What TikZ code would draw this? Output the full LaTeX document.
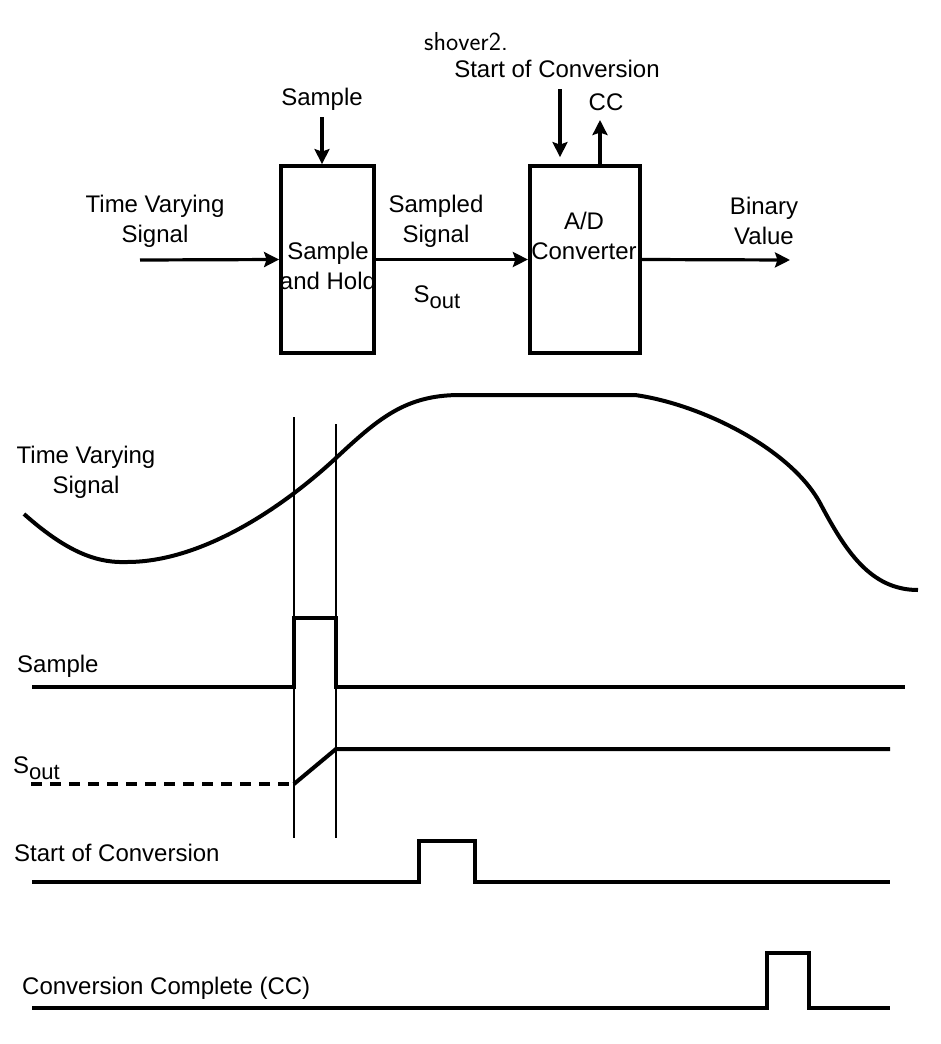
\documentclass[tikz,border=0pt]{standalone}
\usepackage{fontspec}
\setmainfont{Liberation Sans}
\usetikzlibrary{positioning, arrows.meta}

\newcommand{\lowsub}[1]{\raisebox{-6pt}{\fontsize{22}{22}\selectfont #1}}

\begin{document}
\begin{tikzpicture}[
    x=1pt, y=-1pt,
    every node/.style={font=\fontsize{24}{30}\selectfont, inner sep=0pt, align=center},
    block/.style={draw, line width=3.8pt, minimum width=93pt, minimum height=187pt},
    arrow/.style={-{Stealth[length=15pt,width=15pt,inset=2.5pt]}, line width=3.2pt},
    wave/.style={line width=4pt},
    marker/.style={line width=1.3pt}
  ]
\useasboundingbox (0,0) rectangle (940,1044);

\node[block] (sh) at (327.5,259.5) {};
\node[block, minimum width=110pt,
      right=152pt of sh]                          (adc) {};

\node (shtxt)  at (328,266) {Sample\\and Hold};
\node (adctxt) at (584,236) {A/D\\Converter};

\coordinate (in)   at (140,260);
\coordinate (out)  at (790,260);
\coordinate (smp)  at (322,117);
\coordinate (soc)  at (560,89);
\coordinate (cc)   at (600,120);

\node (tvs)  at (155,221) {Time Varying\\Signal};
\node (ssig) at (436,221) {Sampled\\Signal};
\node (sout) at (437,297) {S\lowsub{out}};
\node (bin)  at (764,221) {Binary\\Value};
\node[above=6pt of smp] (smptxt) {Sample};
\node (soctxt) at (557,69) {Start of Conversion};
\node (cctxt)  at (606,102) {CC};
\node[font=\fontsize{26}{30}\sffamily] (note) at (466,42) {shover2.};

  \draw[arrow] (in) -- (sh.west);
  \draw[arrow] (sh.east) -- (adc.west);
  \draw[arrow] (adc.east) -- (out);
  \draw[arrow] (smp) -- (smp |- sh.north);
  \draw[arrow, shorten >=7pt] (soc) -- (soc |- adc.north);
  \draw[arrow] (cc |- adc.north) -- (cc);

\node[anchor=center] (tvs2) at (86,472) {Time Varying\\Signal};
\node[anchor=west] (smp2) at (17,666) {Sample};
\node[anchor=west] (sout2) at (13,768) {S\lowsub{out}};
\node[anchor=west] (soc2) at (14,853) {Start of Conversion};
\node[anchor=west] (cc2) at (22,988) {Conversion Complete (CC)};

  \draw[marker] (294,417) -- (294,838);
  \draw[marker] (336,424) -- (336,838);

  \draw[wave] (24,514) .. controls (70,555) and (100,563) .. (127,562)
    .. controls (200,562) and (280,510) .. (336,458)
    .. controls (378,419) and (405,395) .. (460,395)
    -- (635,395)
    .. controls (700,404) and (790,448) .. (820,503)
    .. controls (845,550) and (870,590) .. (918,590);

  \draw[wave] (32,687) -- (294,687) -- (294,618) -- (336,618) -- (336,687) -- (905,687);
  \draw[wave, line width=3.2pt, dash pattern=on 11pt off 8pt] (31,784) -- (294,784);
  \draw[wave] (294,784) -- (336,749) -- (890,749);
  \draw[wave] (32,882) -- (419,882) -- (419,841) -- (475,841) -- (475,882) -- (890,882);
  \draw[wave] (32,1008) -- (767,1008) -- (767,953) -- (809,953) -- (809,1008) -- (890,1008);
\end{tikzpicture}
\end{document}
